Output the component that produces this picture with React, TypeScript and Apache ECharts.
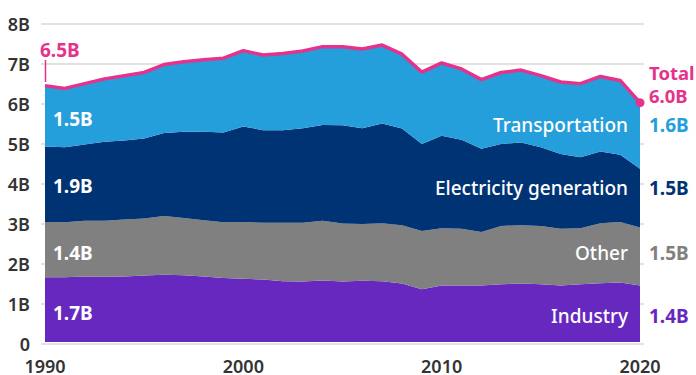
import React, { useEffect, useRef } from "react";
import * as echarts from "echarts";

const years = [1990, 1991, 1992, 1993, 1994, 1995, 1996, 1997, 1998, 1999, 2000, 2001, 2002, 2003, 2004, 2005, 2006, 2007, 2008, 2009, 2010, 2011, 2012, 2013, 2014, 2015, 2016, 2017, 2018, 2019, 2020];
const industry = [1.63, 1.63, 1.65, 1.64, 1.65, 1.67, 1.69, 1.68, 1.65, 1.61, 1.59, 1.57, 1.53, 1.52, 1.55, 1.52, 1.54, 1.53, 1.47, 1.33, 1.42, 1.42, 1.42, 1.45, 1.47, 1.45, 1.42, 1.45, 1.48, 1.5, 1.42];
const other = [1.39, 1.38, 1.4, 1.41, 1.43, 1.44, 1.48, 1.44, 1.41, 1.4, 1.43, 1.43, 1.47, 1.48, 1.5, 1.46, 1.43, 1.46, 1.47, 1.46, 1.44, 1.43, 1.35, 1.47, 1.47, 1.47, 1.43, 1.41, 1.51, 1.52, 1.46];
const electricity = [1.9, 1.89, 1.92, 1.99, 1.99, 2.01, 2.09, 2.17, 2.23, 2.26, 2.4, 2.33, 2.33, 2.38, 2.41, 2.47, 2.41, 2.51, 2.43, 2.19, 2.33, 2.24, 2.09, 2.06, 2.08, 1.98, 1.88, 1.79, 1.8, 1.69, 1.48];
const transportation = [1.53, 1.48, 1.53, 1.58, 1.63, 1.66, 1.72, 1.76, 1.81, 1.87, 1.91, 1.89, 1.93, 1.94, 1.97, 1.98, 1.99, 1.97, 1.87, 1.81, 1.83, 1.78, 1.74, 1.8, 1.82, 1.8, 1.81, 1.85, 1.89, 1.87, 1.66];
const total = [6.45, 6.38, 6.5, 6.62, 6.7, 6.78, 6.98, 7.05, 7.1, 7.14, 7.33, 7.22, 7.26, 7.32, 7.43, 7.43, 7.37, 7.47, 7.24, 6.79, 7.02, 6.87, 6.6, 6.78, 6.84, 6.7, 6.54, 6.5, 6.68, 6.58, 6.02];

const seriesNames = ["Industry", "Other", "Electricity generation", "Transportation"];
const startLabels = ["1.7B", "1.4B", "1.9B", "1.5B"];
const endLabels = ["1.4B", "1.5B", "1.5B", "1.6B"];
const totalStartLabel = "6.5B";
const totalEndLabel = "6.0B";

const COLORS = ["#6728C0", "#808080", "#003373", "#259EDC"];
const PINK = "#E5338C";
const FONT = '"Noto Sans", sans-serif';

export default function App() {
  const ref = useRef<HTMLDivElement>(null);
  useEffect(() => {
    if (!ref.current) return;
    const chart = echarts.init(ref.current, undefined, { renderer: "svg" });
    const cats = years.map(String);
    const layers = [industry, other, electricity, transportation];
    const areaSeries = layers.map((arr, k) => ({
      name: seriesNames[k],
      type: "line",
      xAxisIndex: 1,
      yAxisIndex: 1,
      stack: "total",
      symbol: "none",
      lineStyle: { width: 0 },
      areaStyle: { color: COLORS[k], opacity: 1 },
      itemStyle: { color: COLORS[k] },
      data: arr,
      z: 2,
    }));
    const last = years.length - 1;
    const txt = (text: string, x: number, y: number, fill: string, align: string, weight: number | string = 700, size = 19) => ({
      type: "text",
      x,
      y,
      z: 100,
      style: { text, fill, align, verticalAlign: "middle", font: `${weight} ${size}px ${FONT}` },
    });
    const leftYs = [313, 252.5, 186, 119];
    const rightYs = [316, 253, 188, 125];
    const graphics: any[] = [];
    startLabels.forEach((t, k) => graphics.push(txt(t, 53, leftYs[k], "#ffffff", "left")));
    endLabels.forEach((t, k) => graphics.push(txt(t, 649, rightYs[k], COLORS[k], "left")));
    seriesNames.forEach((t, k) => graphics.push(txt(t, 628, rightYs[k], "#ffffff", "right", 500)));
    graphics.push(txt(totalStartLabel, 40, 49.5, PINK, "left"));
    graphics.push(txt("Total", 649, 72.5, PINK, "left", 700, 18.5));
    graphics.push(txt(totalEndLabel, 649, 95, PINK, "left", 700, 18.5));
    graphics.push({
      type: "line",
      z: 100,
      shape: { x1: 45.5, y1: 60, x2: 45.5, y2: 82 },
      style: { stroke: PINK, lineWidth: 1.5 },
    });

    chart.setOption({
      animation: false,
      textStyle: { fontFamily: FONT },
      grid: [
        { left: 41, right: 52, top: 24, bottom: 31 },
        { left: 45, right: 56, top: 24, bottom: 31 },
      ],
      xAxis: [
        { type: "category", gridIndex: 0, data: cats, boundaryGap: false, show: false },
        {
          type: "category",
          gridIndex: 1,
          data: cats,
          boundaryGap: false,
          axisLine: { show: false },
          axisTick: { show: false },
          splitLine: { show: false },
          axisLabel: {
            color: "#333",
            fontSize: 18,
            fontWeight: 600,
            margin: 15,
            interval: (idx: number) => idx % 10 === 0,
          },
        },
      ],
      yAxis: [
        {
          type: "value",
          gridIndex: 0,
          min: 0,
          max: 8,
          interval: 1,
          axisLine: { show: false },
          axisTick: { show: false },
          splitLine: { show: true, lineStyle: { color: "#d9d9d9", width: 1.5 } },
          axisLabel: { color: "#333", fontSize: 18, fontWeight: 600, margin: 11, formatter: (v: number) => (v === 0 ? "0" : `${v}B`) },
        },
        { type: "value", gridIndex: 1, min: 0, max: 8, show: false },
      ],
      series: [
        ...areaSeries,
        {
          name: "Total",
          type: "line",
          xAxisIndex: 1,
          yAxisIndex: 1,
          symbol: "circle",
          showSymbol: true,
          showAllSymbol: true,
          symbolSize: (_v: any, p: any) => (p.dataIndex === last ? 9 : 0),
          lineStyle: { color: PINK, width: 3.5 },
          itemStyle: { color: PINK },
          data: total,
          z: 5,
        },
      ],
      graphic: graphics,
    });
    return () => chart.dispose();
  }, []);
  return <div ref={ref} style={{ position: "absolute", left: 0, top: 0, width: 696, height: 375 }} />;
}
